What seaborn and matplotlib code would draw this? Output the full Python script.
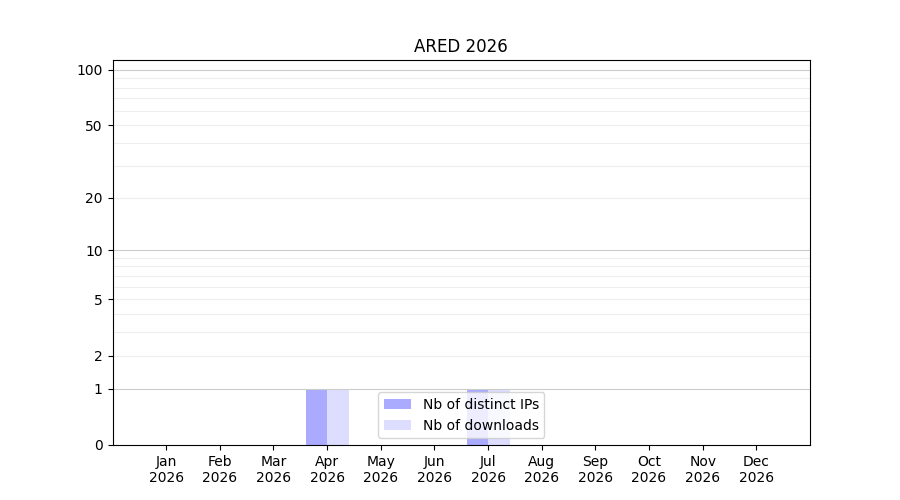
import numpy as np
import pandas as pd
import matplotlib
matplotlib.use("Agg")
import matplotlib.pyplot as plt
import seaborn as sns

months = ["Jan", "Feb", "Mar", "Apr", "May", "Jun",
          "Jul", "Aug", "Sep", "Oct", "Nov", "Dec"]
year = "2026"
distinct_ips = [0, 0, 0, 1, 0, 0, 1, 0, 0, 0, 0, 0]
downloads = [0, 0, 0, 1, 0, 0, 1, 0, 0, 0, 0, 0]
ytick_values = [0, 1, 2, 5, 10, 20, 50, 100]

labels = [f"{m}\n{year}" for m in months]
df = pd.DataFrame({
    "month": labels * 2,
    "value": distinct_ips + downloads,
    "serie": ["Nb of distinct IPs"] * 12 + ["Nb of downloads"] * 12,
})

fig, ax = plt.subplots(figsize=(9, 5), dpi=100)

# grille : décades plus foncées
for d in [1, 10, 100]:
    ax.axhline(d, color="#cccccc", lw=0.8, zorder=0.5)
for d in list(range(2, 10)) + list(range(20, 100, 10)):
    ax.axhline(d, color="#eeeeee", lw=0.8, zorder=0.5)

sns.barplot(data=df, x="month", y="value", hue="serie", order=labels,
            palette=["#aaaaff", "#ddddff"], saturation=1, linewidth=0,
            width=0.8, ax=ax, zorder=0.4)

ax.set_yscale("function", functions=(lambda x: np.log10(1 + np.clip(x, 0, None)),
                                     lambda y: 10 ** y - 1))
ax.set_ylim(0, 113)
ax.set_xlim(-1, 12)
ax.set_yticks(ytick_values)
ax.set_yticklabels([str(v) for v in ytick_values])
ax.minorticks_off()
ax.set_xlabel("")
ax.set_ylabel("")
ax.set_title(f"ARED {year}")
ax.legend(loc="lower center")

plt.savefig("out.png")
